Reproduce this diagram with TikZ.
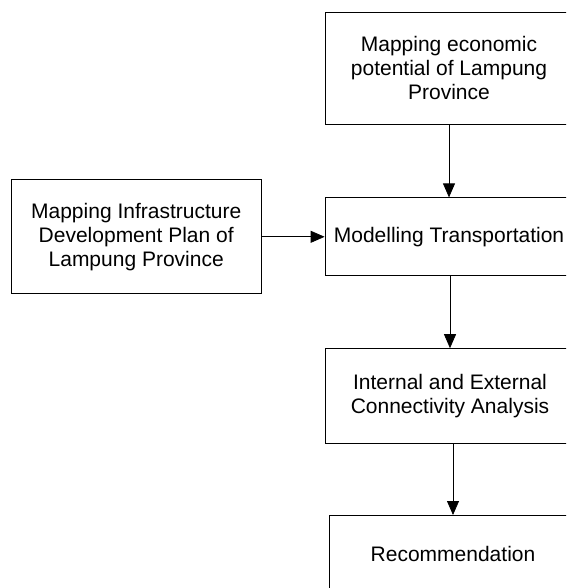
\documentclass[tikz,border=0pt]{standalone}
\usepackage{fontspec}
\setmainfont{Liberation Sans}
\usetikzlibrary{positioning,arrows.meta}
\tikzset{stepbox/.style = {draw, line width=0.8pt, align=center, inner sep=0pt, minimum width=248pt, font=\fontsize{21}{24}\selectfont}}
\tikzset{flow/.style = {-{Triangle[length=14pt,width=12pt]}, line width=0.8pt}}

\begin{document}
\begin{tikzpicture}[x=1pt, y=1pt]
  \useasboundingbox (0,0) rectangle (566,-588);
  \clip (0,0) rectangle (566,-588);

  \node [stepbox, minimum height=112pt] (econ) at (449,-68) {Mapping economic\\potential of Lampung\\Province};
  \node [stepbox, minimum height=78pt, below=73pt of econ] (model) {Modelling Transportation};
  \node [stepbox, minimum width=250pt, minimum height=114pt, left=63pt of model] (infra) {Mapping Infrastructure\\Development Plan of\\Lampung Province};
  \node [stepbox, minimum width=250pt, minimum height=95pt, below=72pt of model, xshift=1pt] (conn) {Internal and External\\Connectivity Analysis};
  \node [stepbox, minimum height=78pt, below=71pt of conn, xshift=3pt] (rec) {Recommendation};

  \draw[flow] (econ.south) -- (model.north);
  \draw[flow] (infra.east) -- (model.west);
  \draw[flow] (conn.north |- model.south) -- (conn.north);
  \draw[flow] (rec.north |- conn.south) -- (rec.north);
\end{tikzpicture}
\end{document}
